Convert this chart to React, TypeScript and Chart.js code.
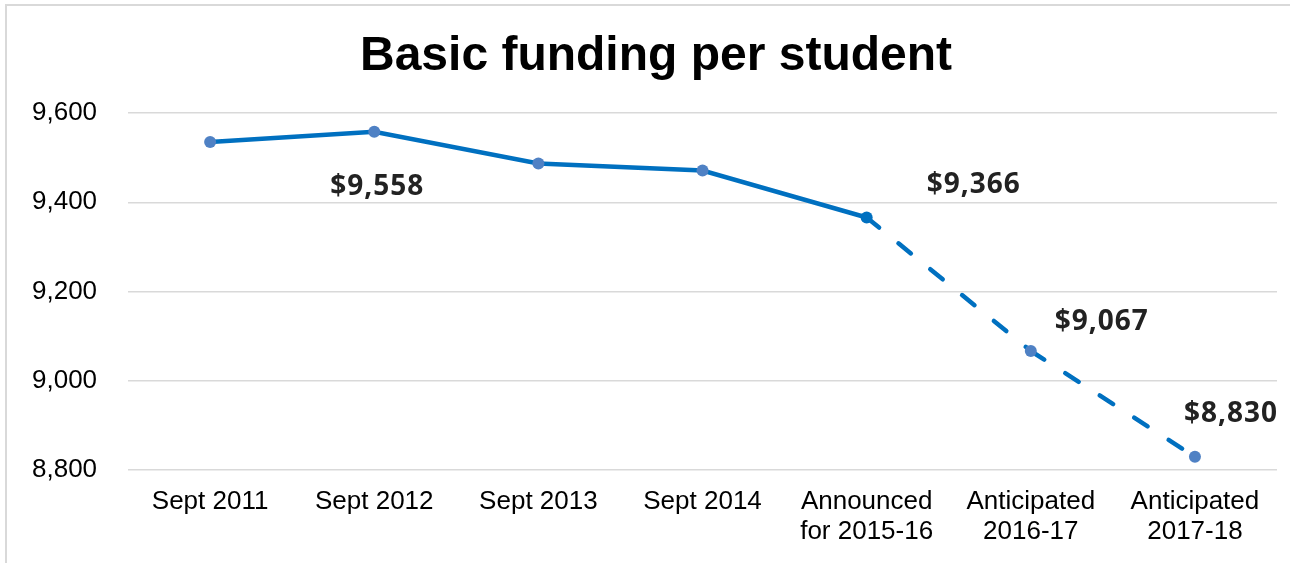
import React, { useEffect, useRef } from "react";
import { Chart, registerables } from "chart.js";

Chart.register(...registerables);

const categories: (string | string[])[] = [
  "Sept 2011",
  "Sept 2012",
  "Sept 2013",
  "Sept 2014",
  ["Announced", "for 2015-16"],
  ["Anticipated", "2016-17"],
  ["Anticipated", "2017-18"],
];
const funding: number[] = [9535, 9558, 9487, 9471, 9366, 9067, 8830];
const labelledIndices: number[] = [1, 4, 5, 6];
const yTicks = { min: 8800, max: 9600, step: 200 };
const titleText = "Basic funding per student";

const LINE = "#0070c0";
const MARKER = "#4f81c4";

// pixel offsets for value labels relative to their points (layout only)
const labelOffsets: Record<number, [number, number]> = {
  1: [3, 55],
  4: [107, -32],
  5: [71, -29],
  6: [36, -43],
};

const titlePlugin = {
  id: "customTitle",
  afterDraw(chart: any) {
    const ctx = chart.ctx as CanvasRenderingContext2D;
    ctx.save();
    ctx.font = "bold 48px 'Liberation Sans', Arial, sans-serif";
    ctx.fillStyle = "#000000";
    ctx.textAlign = "center";
    ctx.textBaseline = "alphabetic";
    ctx.fillText(titleText, 656, 70);
    ctx.restore();
  },
};

const valueLabels = {
  id: "valueLabels",
  afterDatasetsDraw(chart: any) {
    const ctx = chart.ctx as CanvasRenderingContext2D;
    const meta = chart.getDatasetMeta(0);
    ctx.save();
    ctx.font = "bold 28px 'Open Sans'";
    (ctx as any).letterSpacing = "1px";
    ctx.fillStyle = "#222222";
    ctx.textAlign = "center";
    ctx.textBaseline = "middle";
    labelledIndices.forEach((i) => {
      const pt = meta.data[i];
      const off = labelOffsets[i] || [0, 0];
      const v = funding[i];
      ctx.fillText("$" + v.toLocaleString("en-US"), pt.x + off[0], pt.y + off[1]);
    });
    ctx.restore();
  },
};

export default function App() {
  const ref = useRef<HTMLCanvasElement>(null);
  useEffect(() => {
    if (!ref.current) return;
    const chart = new Chart(ref.current, {
      type: "line",
      data: {
        labels: categories,
        datasets: [
          {
            data: funding,
            borderColor: LINE,
            borderWidth: 4.5,
            borderCapStyle: "round",
            pointRadius: 6,
            pointBackgroundColor: funding.map((_, i) => (i === 4 ? LINE : MARKER)),
            pointBorderColor: funding.map((_, i) => (i === 4 ? LINE : MARKER)),
            pointBorderWidth: 0,
            tension: 0,
            segment: {
              // slightly different arrays so the dash pattern restarts at each point
              borderDash: (c: any) =>
                c.p0DataIndex >= 4 ? [16 + (c.p0DataIndex - 4) * 0.001, 25] : undefined,
            },
          },
        ],
      },
      options: {
        animation: false,
        responsive: false,
        devicePixelRatio: 1,
        layout: { padding: { left: 1, right: 13, top: 113, bottom: 0 } },
        plugins: {
          legend: { display: false },
          tooltip: { enabled: false },
          title: { display: false },
        },
        scales: {
          x: {
            offset: true,
            grid: { display: false, drawTicks: false },
            border: { display: false },
            ticks: {
              color: "#000000",
              font: { family: "'Liberation Sans', Arial, sans-serif", size: 26, lineHeight: 1.15 },
              padding: 16.5,
              maxRotation: 0,
              autoSkip: false,
            },
          },
          y: {
            min: yTicks.min,
            max: yTicks.max,
            grid: { color: "#d9d9d9", lineWidth: 1.5, drawTicks: false },
            border: { display: false },
            ticks: {
              stepSize: yTicks.step,
              color: "#000000",
              font: { family: "'Liberation Sans', Arial, sans-serif", size: 26 },
              padding: 31,
            },
          },
        },
      },
      plugins: [valueLabels, titlePlugin],
    });
    return () => chart.destroy();
  }, []);

  return (
    <div style={{ position: "fixed", left: 0, top: 0, width: 1290, height: 563, background: "#fff", overflow: "hidden" }}>
      <div
        style={{
          position: "absolute",
          left: 5,
          top: 4,
          width: 1300,
          height: 600,
          border: "2px solid #d9d9d9",
          boxSizing: "border-box",
        }}
      />
      <canvas ref={ref} width={1290} height={563} style={{ position: "absolute", left: 0, top: 0 }} />
    </div>
  );
}
